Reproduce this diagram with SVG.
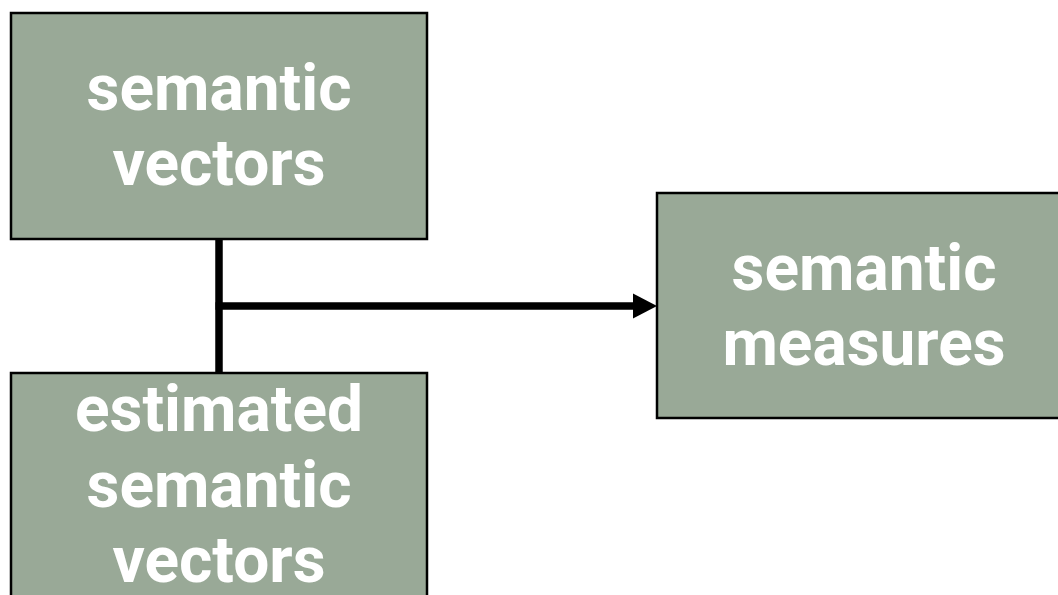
<svg xmlns="http://www.w3.org/2000/svg" width="1058" height="595" viewBox="0 0 1058 595">
  <style>
    .box { fill: #99a997; stroke: #000; stroke-width: 2.5; }
    .label { font-family: Roboto, "Liberation Sans", sans-serif; font-weight: bold; font-size: 64px; fill: #fff; text-anchor: middle; }
    .conn { stroke: #000; stroke-width: 7.5; fill: none; }
    .head { fill: #000; }
  </style>
  <rect width="1058" height="595" fill="#fff"/>

  <g id="connectors">
    <line class="conn" x1="219" y1="239" x2="219" y2="373"/>
    <line class="conn" x1="215.5" y1="306" x2="636" y2="306"/>
    <polygon class="head" points="633,293.5 657,306 633,318.5"/>
  </g>

  <g id="semantic-vectors">
    <rect class="box" x="11" y="13" width="416" height="226"/>
    <text class="label" x="219" y="110">semantic</text>
    <text class="label" x="219" y="185">vectors</text>
  </g>

  <g id="estimated-semantic-vectors">
    <rect class="box" x="11" y="373" width="416" height="240"/>
    <text class="label" x="219" y="431">estimated</text>
    <text class="label" x="219" y="507">semantic</text>
    <text class="label" x="219" y="582">vectors</text>
  </g>

  <g id="semantic-measures">
    <rect class="box" x="657" y="193" width="414" height="225"/>
    <text class="label" x="864" y="290">semantic</text>
    <text class="label" x="864" y="365">measures</text>
  </g>
</svg>
